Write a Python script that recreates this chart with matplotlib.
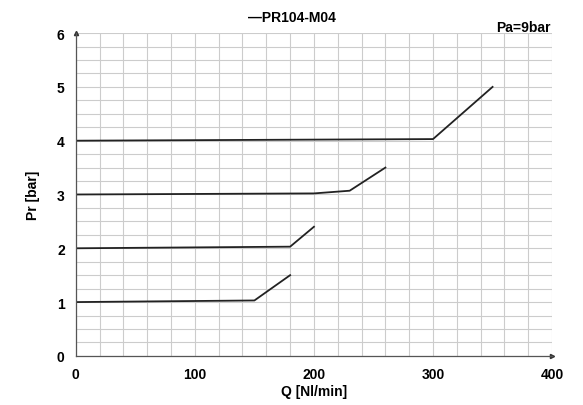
import matplotlib.pyplot as plt
import numpy as np

plt.rcParams['font.family'] = ['Liberation Sans', 'DejaVu Sans']

# curves (Q in Nl/min, Pr in bar)
q1 = [0, 150, 180]
p1 = [1.0, 1.03, 1.5]
q2 = [0, 180, 200]
p2 = [2.0, 2.03, 2.4]
q3 = [0, 200, 230, 260]
p3 = [3.0, 3.02, 3.07, 3.5]
q4 = [0, 300, 350]
p4 = [4.0, 4.03, 5.0]

xticks = [0, 100, 200, 300, 400]
yticks = [0, 1, 2, 3, 4, 5, 6]

fig = plt.figure(figsize=(5.83, 4.06), dpi=100)
ax = fig.add_axes([0.130, 0.121, 0.817, 0.795])

for q, p in [(q1, p1), (q2, p2), (q3, p3), (q4, p4)]:
    ax.plot(q, p, color='#222222', lw=1.3)

ax.set_xlim(0, 400)
ax.set_ylim(0, 6)
ax.set_xticks(xticks)
ax.set_yticks(yticks)
ax.set_xticks(np.arange(0, 401, 20), minor=True)
ax.set_yticks(np.arange(0, 6.01, 0.25), minor=True)
ax.grid(which='both', color='#cccccc', lw=0.8)
ax.tick_params(which='both', length=0, labelsize=10, pad=8)
for lab in ax.get_xticklabels() + ax.get_yticklabels():
    lab.set_fontweight('bold')

for s in ['top', 'right']:
    ax.spines[s].set_visible(False)
for s in ['left', 'bottom']:
    ax.spines[s].set_color('#555555')
    ax.spines[s].set_linewidth(0.9)

# small arrow heads at the axis ends
ax.plot(0, 6, marker='^', ms=3, color='#333333', clip_on=False)
ax.plot(400, 0, marker='>', ms=3, color='#333333', clip_on=False)

ax.set_xlabel('Q [Nl/min]', fontweight='bold', fontsize=10, labelpad=2)
ax.set_ylabel('Pr [bar]', fontweight='bold', fontsize=10, labelpad=12)

fig.text(0.50, 0.945, '\u2014PR104-M04', fontweight='bold', fontsize=10, ha='center')
fig.text(0.945, 0.922, 'Pa=9bar', fontweight='bold', fontsize=10, ha='right')

plt.savefig('out.png', dpi=100)
